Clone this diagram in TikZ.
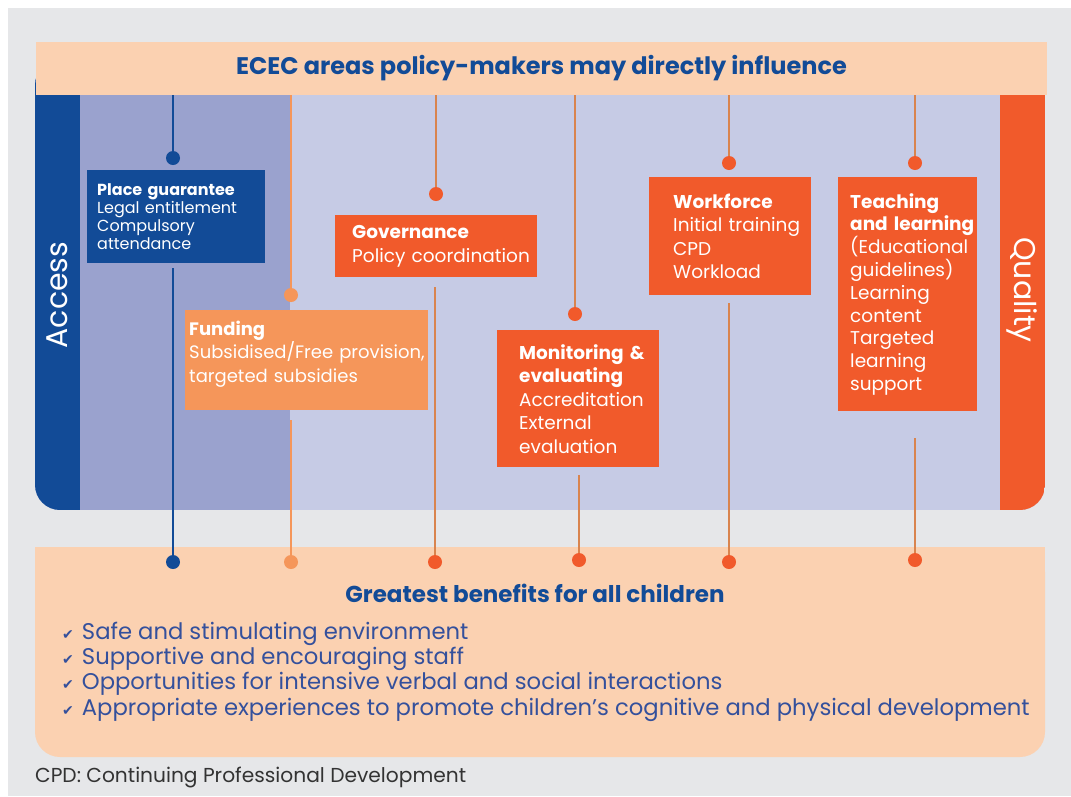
\documentclass[tikz,border=0pt]{standalone}
\usepackage{fontspec}
\setmainfont{Poppins}
\newfontfamily\checkfont{DejaVu Sans}
\usepackage{tikz}

\definecolor{accblue}{HTML}{124B97}
\definecolor{midblue}{HTML}{9AA2CE}
\definecolor{lavender}{HTML}{C6CBE5}
\definecolor{peach}{HTML}{FBD1B1}
\definecolor{qorange}{HTML}{F15A2B}
\definecolor{lorange}{HTML}{F5965A}
\definecolor{bggrey}{HTML}{E6E7E9}
\definecolor{wire}{HTML}{D9844E}
\definecolor{listblue}{HTML}{34509C}
\definecolor{capgrey}{HTML}{333333}

\hyphenpenalty=10000
\exhyphenpenalty=10000
\newcommand{\tick}{{\checkfont\fontsize{14}{14}\selectfont ✔}\hspace{8pt}}

\begin{document}
\begin{tikzpicture}[x=1pt,y=-1pt]
\useasboundingbox (0,0) rectangle (1071,796);
\fill[bggrey] (8,8) rectangle (1071,796);

% middle band
\begin{scope}
    \clip[rounded corners=25pt] (35,60) rectangle (1045,510);
    \fill[lavender] (35,60) rectangle (1045,510);
    \fill[midblue] (80,60) rectangle (290,510);
    \fill[accblue] (35,60) rectangle (80,510);
    \fill[qorange] (1000,60) rectangle (1045,510);
\end{scope}

% bottom box
\fill[peach, rounded corners=25pt] (35,547) rectangle (1045,757);
\fill[peach] (35,547) rectangle (1045,600);

\node (top)[fill=peach, minimum width=1011pt, minimum height=53pt, inner sep=0pt,
            text=accblue, font=\fontsize{24}{28}\selectfont\bfseries] at (541.5,68.5)
            {ECEC areas policy-makers may directly influence};

\node (access)[rotate=90, text=white, font=\fontsize{30}{32}\selectfont] at (57,295) {Access};
\node (quality)[rotate=-90, text=white, font=\fontsize{30}{32}\selectfont] at (1022,290) {Quality};

\begin{scope}[every node/.style={anchor=north west, align=left, text=white, inner ysep=0pt,
              font=\fontsize{18.5}{23.5}\selectfont}]
    \node (pg)[fill=accblue, minimum height=93pt, text width=158pt, inner xsep=10pt,
               font=\fontsize{16}{18}\selectfont] at (87,170)
        {\textbf{Place~guarantee}\\Legal~entitlement\\Compulsory\\attendance};
    \node (fund)[fill=lorange, minimum height=100pt, text width=235pt, inner xsep=4pt, text depth=64pt,
                 font=\fontsize{18}{23.5}\selectfont] at (185,310)
        {\textbf{Funding}\\Subsidised/Free~provision,\\targeted~subsidies};
    \node (gov)[fill=qorange, minimum height=62pt, text width=168pt, inner xsep=17pt] at (335,215)
        {\textbf{Governance}\\Policy~coordination};
    \node (mon)[fill=qorange, minimum height=137pt, text width=118pt, inner xsep=22pt] at (497,330)
        {\textbf{Monitoring~\&}\\\textbf{evaluating}\\Accreditation\\External\\evaluation};
    \node (wf)[fill=qorange, minimum height=118pt, text width=114pt, inner xsep=24pt] at (649,177)
        {\textbf{Workforce}\\Initial~training\\CPD\\Workload};
    \node (tl)[fill=qorange, minimum height=234pt, text width=115pt, inner xsep=12pt,
               font=\fontsize{18.5}{22.8}\selectfont] at (838,177)
        {\textbf{Teaching}\\\textbf{and~learning}\\(Educational\\guidelines)\\Learning\\content\\Targeted\\learning\\support};
\end{scope}

\begin{scope}[every node/.style={circle, minimum size=14pt, inner sep=0pt}]
    \node (pgin)[fill=accblue] at (173,158) {};
    \node (pgout)[fill=accblue] at (173,562) {};
    \node (fundin)[fill=lorange] at (291,295) {};
    \node (fundout)[fill=lorange] at (291,562) {};
    \node (govin)[fill=qorange] at (436,194) {};
    \node (govout)[fill=qorange] at (435,562) {};
    \node (monin)[fill=qorange] at (575,314) {};
    \node (monout)[fill=qorange] at (579,560) {};
    \node (wfin)[fill=qorange] at (729,163) {};
    \node (wfout)[fill=qorange] at (729,562) {};
    \node (tlin)[fill=qorange] at (915,163) {};
    \node (tlout)[fill=qorange] at (915,560) {};
\end{scope}

\begin{scope}[every edge/.style={draw=wire, line width=2pt}]
    \path (top.south -| pgin) edge[draw=accblue] (pgin);
    \path (pg.south -| pgout) edge[draw=accblue, shorten <=5pt] (pgout);
    \path (top.south -| fundin) edge[draw=lorange] (fundin);
    \path (fund.south -| fundout) edge[draw=lorange, shorten <=10pt] (fundout);
    \path (top.south -| govin) edge (govin);
    \path (gov.south -| govout) edge[shorten <=10pt] (govout);
    \path (top.south -| monin) edge (monin);
    \path (mon.south -| monout) edge[shorten <=8pt] (monout);
    \path (top.south -| wfin) edge (wfin);
    \path (wf.south -| wfout) edge[shorten <=8pt] (wfout);
    \path (top.south -| tlin) edge (tlin);
    \path (tl.south -| tlout) edge[shorten <=27pt] (tlout);
\end{scope}

\node (benefits)[text=accblue, font=\fontsize{23}{26}\selectfont\bfseries] at (535,593)
    {Greatest benefits for all children};
\node (list)[anchor=west, align=left, text=listblue, inner sep=0pt,
             font=\fontsize{22.7}{25.3}\selectfont] at (62,671.5)
    {\tick Safe and stimulating environment\\
     \tick Supportive and encouraging staff\\
     \tick Opportunities for intensive verbal and social interactions\\
     \tick Appropriate experiences to promote children’s cognitive and physical development};

\node (cpd)[anchor=west, inner sep=0pt, text=capgrey, font=\fontsize{20.2}{22}\selectfont] at (35,777)
    {CPD: Continuing Professional Development};
\end{tikzpicture}
\end{document}
